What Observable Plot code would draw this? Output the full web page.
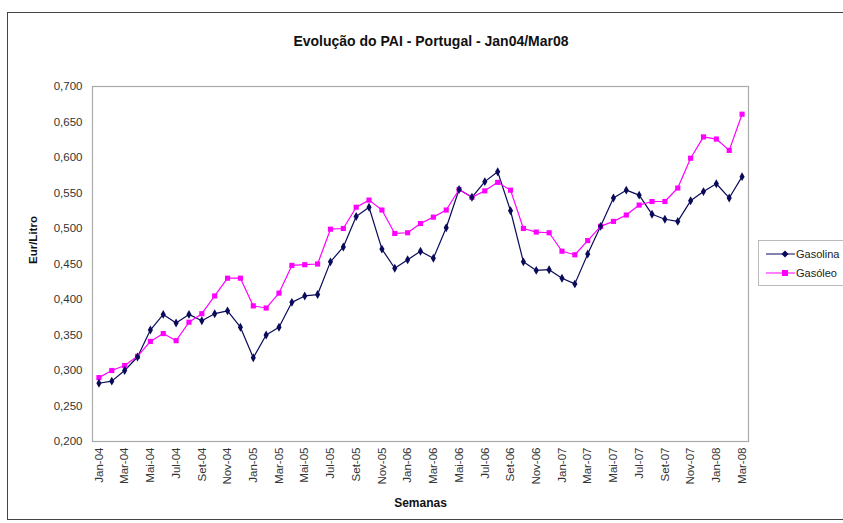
<!DOCTYPE html>
<html>
<head>
<meta charset="utf-8">
<script src="https://cdn.jsdelivr.net/npm/d3@7"></script>
<script src="https://cdn.jsdelivr.net/npm/@observablehq/plot@0.6"></script>
<style>
  body { margin: 0; background: #fff; font-family: "Liberation Sans", Arial, sans-serif; }
  #wrap { position: relative; width: 843px; height: 523px; overflow: hidden; }
  #border { position: absolute; left: 7px; top: 12px; width: 850px; height: 508px; border: 1.5px solid #444; box-sizing: border-box; }
  #title { position: absolute; left: 0; width: 862px; top: 33px; text-align: center; font-weight: bold; font-size: 14px; color: #111; }
  #legend { position: absolute; left: 758px; top: 240px; width: 120px; height: 44px; border: 1px solid #bbb; background: #fff; font-size: 11px; color: #222; }
  .item { position: absolute; left: 5px; height: 14px; display: flex; align-items: center; }
  .item svg { margin-right: 1px; }
  #chart { position: absolute; left: 0; top: 0; }
</style>
</head>
<body>
<div id="wrap">
  <div id="border"></div>
  <div id="chart"></div>
  <div id="title">Evolução do PAI - Portugal - Jan04/Mar08</div>
  <div id="legend"></div>
</div>
<script>
const months = [
  "Jan-04","Fev-04","Mar-04","Abr-04","Mai-04","Jun-04","Jul-04","Ago-04","Set-04","Out-04","Nov-04","Dez-04",
  "Jan-05","Fev-05","Mar-05","Abr-05","Mai-05","Jun-05","Jul-05","Ago-05","Set-05","Out-05","Nov-05","Dez-05",
  "Jan-06","Fev-06","Mar-06","Abr-06","Mai-06","Jun-06","Jul-06","Ago-06","Set-06","Out-06","Nov-06","Dez-06",
  "Jan-07","Fev-07","Mar-07","Abr-07","Mai-07","Jun-07","Jul-07","Ago-07","Set-07","Out-07","Nov-07","Dez-07",
  "Jan-08","Fev-08","Mar-08"
];
const tickLabels = [
  "Jan-04","Mar-04","Mai-04","Jul-04","Set-04","Nov-04",
  "Jan-05","Mar-05","Mai-05","Jul-05","Set-05","Nov-05",
  "Jan-06","Mar-06","Mai-06","Jul-06","Set-06","Nov-06",
  "Jan-07","Mar-07","Mai-07","Jul-07","Set-07","Nov-07",
  "Jan-08","Mar-08"
];
const gasolina = [
  0.282,0.285,0.300,0.319,0.357,0.379,0.367,0.379,0.370,0.380,0.384,0.361,
  0.318,0.350,0.361,0.396,0.405,0.407,0.453,0.474,0.517,0.530,0.471,0.444,
  0.456,0.468,0.458,0.501,0.555,0.544,0.566,0.580,0.525,0.453,0.441,0.442,
  0.430,0.422,0.464,0.503,0.543,0.554,0.547,0.520,0.513,0.510,0.539,0.552,
  0.563,0.543,0.573
];
const gasoleo = [
  0.290,0.300,0.307,0.320,0.341,0.352,0.342,0.368,0.380,0.405,0.430,0.430,
  0.391,0.388,0.409,0.448,0.449,0.450,0.499,0.500,0.530,0.540,0.526,0.493,
  0.494,0.507,0.516,0.526,0.555,0.544,0.553,0.565,0.554,0.500,0.495,0.494,
  0.468,0.463,0.483,0.503,0.510,0.519,0.533,0.538,0.538,0.557,0.599,0.629,
  0.626,0.610,0.661
];
const yTicks = [0.2,0.25,0.3,0.35,0.4,0.45,0.5,0.55,0.6,0.65,0.7];
const seriesNames = ["Gasolina","Gasóleo"];
const colors = ["#0a0a5a","#ff00ff"];

const rows = [];
months.forEach((m,i) => {
  rows.push({month: m, value: gasolina[i], serie: seriesNames[0]});
  rows.push({month: m, value: gasoleo[i], serie: seriesNames[1]});
});
const fmt = v => d3.format(".3f")(v).replace(".", ",");

const plot = Plot.plot({
  width: 843,
  height: 523,
  marginLeft: 92,
  marginRight: 95,
  marginTop: 86,
  marginBottom: 82,
  style: {fontFamily: "Liberation Sans, Arial, sans-serif", fontSize: "11.5px", color: "#333", background: "transparent"},
  x: {type: "point", domain: months, padding: 0.5, label: null},
  y: {domain: [0.2, 0.7], label: null},
  color: {domain: seriesNames, range: colors},
  marks: [
    Plot.frame({stroke: "#aaa", strokeWidth: 1.2}),
    Plot.axisY({ticks: yTicks, tickFormat: fmt, tickSize: 0, tickPadding: 10, label: null, fontSize: 11.5}),
    Plot.axisX({ticks: tickLabels, tickRotate: -90, tickSize: 0, tickPadding: 6, label: null, fontSize: 11.5}),
    Plot.line(rows, {x: "month", y: "value", stroke: "serie", z: "serie", strokeWidth: 1.2}),
    Plot.dot(rows.filter(d => d.serie === seriesNames[1]), {x: "month", y: "value", fill: colors[1], symbol: "square", r: 2.9, stroke: "none"}),
    Plot.dot(rows.filter(d => d.serie === seriesNames[0]), {x: "month", y: "value", fill: colors[0], symbol: "diamond", r: 2.7, stroke: "none"}),
    Plot.text(["Eur/Litro"], {frameAnchor: "left", dx: -59, rotate: -90, text: d => d, fontWeight: "bold", fontSize: 11.5, fill: "#111"}),
    Plot.text(["Semanas"], {frameAnchor: "bottom", dy: 65, text: d => d, fontWeight: "bold", fontSize: 12, fill: "#111"})
  ]
});
document.getElementById("chart").appendChild(plot);

const legend = document.getElementById("legend");
seriesNames.forEach((name, i) => {
  const div = document.createElement("div");
  div.className = "item";
  div.style.top = (6 + i * 19) + "px";
  const mk = i === 0
    ? `<path d="M21,3.5 L24.5,7 L21,10.5 L17.5,7 Z" fill="${colors[i]}"/>`
    : `<rect x="18" y="4" width="6" height="6" fill="${colors[i]}"/>`;
  div.innerHTML = `<svg width="31" height="14"><line x1="2" x2="40" y1="7" y2="7" stroke="${colors[i]}" stroke-width="1.2"/>${mk}</svg><span>${name}</span>`;
  legend.appendChild(div);
});
</script>
</body>
</html>
